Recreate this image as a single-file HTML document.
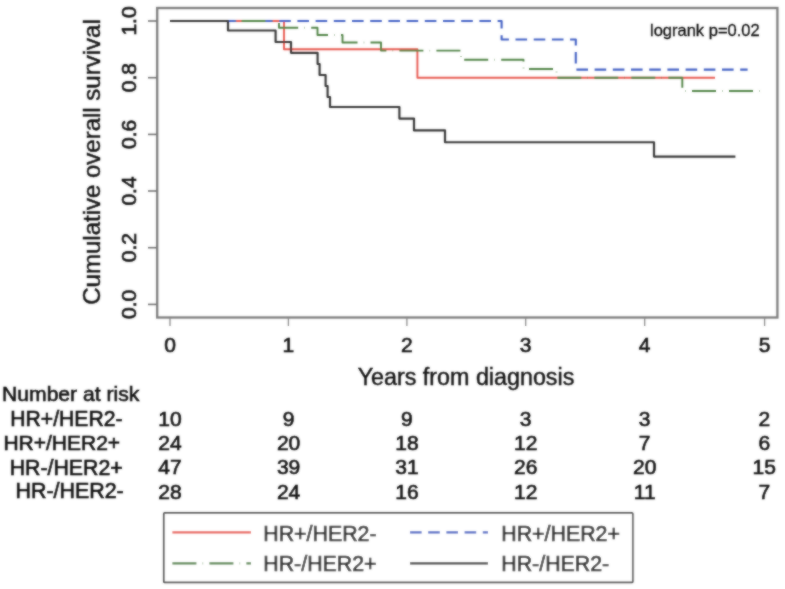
<!DOCTYPE html>
<html><head><meta charset="utf-8">
<style>
html,body{margin:0;padding:0;background:#fff;}
body{width:785px;height:589px;overflow:hidden;}
svg{display:block;}
text{font-family:"Liberation Sans",sans-serif;fill:#0c0c0c;stroke:#0c0c0c;stroke-width:0.6px;}
#all{filter:url(#soft);}
</style></head><body>
<svg width="785" height="589" viewBox="0 0 785 589">
<defs><filter id="soft" x="0" y="0" width="785" height="589" filterUnits="userSpaceOnUse"><feGaussianBlur stdDeviation="0.9" result="b"/><feComposite in="SourceGraphic" in2="b" operator="arithmetic" k1="0" k2="0.4" k3="0.6" k4="0"/></filter></defs>
<rect width="785" height="589" fill="#fff"/>
<g id="all">
<!-- plot box -->
<rect x="157.2" y="8" width="620.2" height="309.5" fill="none" stroke="#7c7c7c" stroke-width="2.3"/>
<!-- ticks -->
<g stroke="#727272" stroke-width="1.6">
<line x1="148" x2="157" y1="21" y2="21"/>
<line x1="148" x2="157" y1="77.7" y2="77.7"/>
<line x1="148" x2="157" y1="134.4" y2="134.4"/>
<line x1="148" x2="157" y1="191" y2="191"/>
<line x1="148" x2="157" y1="247.7" y2="247.7"/>
<line x1="148" x2="157" y1="304.4" y2="304.4"/>
</g><g stroke="#8a8a8a" stroke-width="1.3">
<line y1="318" y2="326" x1="170" x2="170"/>
<line y1="318" y2="326" x1="288.4" x2="288.4"/>
<line y1="318" y2="326" x1="406.9" x2="406.9"/>
<line y1="318" y2="326" x1="525.7" x2="525.7"/>
<line y1="318" y2="326" x1="644.7" x2="644.7"/>
<line y1="318" y2="326" x1="764.6" x2="764.6"/>
</g>
<!-- y tick labels -->
<g font-size="21" text-anchor="middle" style="stroke-width:0.45px">
<text transform="translate(136.4,21) rotate(-90)">1.0</text>
<text transform="translate(136.4,77.7) rotate(-90)">0.8</text>
<text transform="translate(136.4,134.4) rotate(-90)">0.6</text>
<text transform="translate(136.4,191) rotate(-90)">0.4</text>
<text transform="translate(136.4,247.7) rotate(-90)">0.2</text>
<text transform="translate(136.4,304.4) rotate(-90)">0.0</text>
</g>
<text font-size="24" style="stroke-width:0.4px" text-anchor="middle" transform="translate(100.4,162) rotate(-90)">Cumulative overall survival</text>
<!-- x tick labels -->
<g font-size="21" text-anchor="middle" style="stroke-width:0.45px">
<text x="170" y="351.6">0</text>
<text x="288.4" y="351.6">1</text>
<text x="406.9" y="351.6">2</text>
<text x="525.7" y="351.6">3</text>
<text x="644.7" y="351.6">4</text>
<text x="764.6" y="351.6">5</text>
</g>
<text font-size="23.3" style="stroke-width:0.4px" text-anchor="middle" x="466" y="384.6">Years from diagnosis</text>
<text font-size="16.5" x="650" y="36" style="stroke-width:0.3px">logrank p=0.02</text>
<!-- curves -->
<g fill="none" stroke-width="1.9" stroke-linejoin="round">
<path stroke="#e85850" d="M170,21 H284 V49.3 H417.4 V77.7 H715"/>
<path stroke="#4260c4" stroke-width="2.1" stroke-dasharray="11.6 6.6" d="M170,21 H501.6 V39.5 H575.8 V69.6 H747.6"/>
<path stroke="#4f8244" stroke-dasharray="24 6.3 0.4 6.3" stroke-dashoffset="2.5" d="M170,21 H278.5"/>
<path stroke="#4f8244" stroke-dasharray="24 6.3 0.4 6.3" stroke-dashoffset="34.5" d="M278.5,21 H279 V27.8 H317.5 V35 H342.5 V42.5 H381 V50.6 H461 V59.8 H523.5 V69 H556.5 V77.7 H682.3 V91 H760.5"/>
<path stroke="#343434" stroke-width="2.15" d="M170,21 H228 V30.5 H275.6 V42 H291 V52.8 H317.6 V64 H319.6 V75 H325.6 V86 H327.6 V97 H330 V107 H399.4 V118.6 H414 V130.4 H445 V142.2 H654 V156.6 H735.4"/>
</g>
<!-- risk table -->
<g font-size="21">
<text x="2.1" y="401.3" font-size="21.1">Number at risk</text>
<text x="10.3" y="426" font-size="21.15">HR+/HER2-</text>
<text x="3.4" y="450.2">HR+/HER2+</text>
<text x="9.7" y="474.8" font-size="21.3">HR-/HER2+</text>
<text x="15.6" y="498.2" font-size="21.4">HR-/HER2-</text>
<g text-anchor="middle">
<text x="170" y="426">10</text><text x="288.6" y="426">9</text><text x="406.9" y="426">9</text><text x="525.7" y="426">3</text><text x="644.7" y="426">3</text><text x="764.3" y="426">2</text>
<text x="170" y="450.2">24</text><text x="288.6" y="450.2">20</text><text x="406.9" y="450.2">18</text><text x="525.7" y="450.2">12</text><text x="644.7" y="450.2">7</text><text x="764.3" y="450.2">6</text>
<text x="170" y="474.4">47</text><text x="288.6" y="474.4">39</text><text x="406.9" y="474.4">31</text><text x="525.7" y="474.4">26</text><text x="644.7" y="474.4">20</text><text x="764.3" y="474.4">15</text>
<text x="170" y="498.6">28</text><text x="288.6" y="498.6">24</text><text x="406.9" y="498.6">16</text><text x="525.7" y="498.6">12</text><text x="644.7" y="498.6">11</text><text x="764.3" y="498.6">7</text>
</g>
</g>
<!-- legend -->
<rect x="163.8" y="512.8" width="469" height="69.6" rx="1" fill="#fff" stroke="#484848" stroke-width="1.7"/>
<g fill="none" stroke-width="2.15">
<line x1="172.4" x2="251" y1="532.4" y2="532.4" stroke="#e85850"/>
<line x1="410" x2="488" y1="532.4" y2="532.4" stroke="#4260c4" stroke-dasharray="11.6 6.6"/>
<line x1="172.4" x2="251" y1="563.4" y2="563.4" stroke="#4f8244" stroke-dasharray="24 6.3 0.4 6.3"/>
<line x1="410" x2="488" y1="563.4" y2="563.4" stroke="#303030"/>
</g>
<g font-size="21.35" style="stroke-width:0.75px">
<text x="263.3" y="540.6">HR+/HER2-</text>
<text x="501.3" y="540.6">HR+/HER2+</text>
<text x="263.3" y="571">HR-/HER2+</text>
<text x="501.3" y="571">HR-/HER2-</text>
</g>
</g>
</svg>
</body></html>
